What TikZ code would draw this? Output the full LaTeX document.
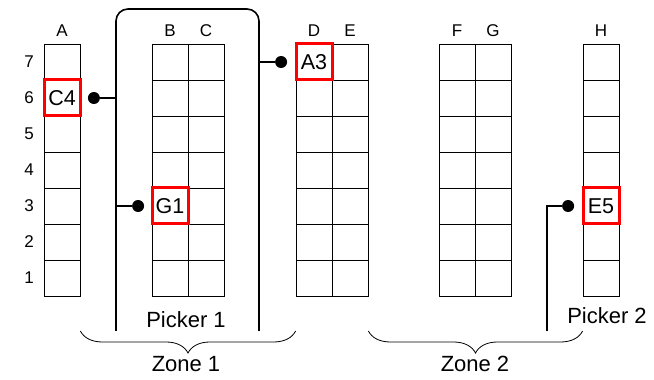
\documentclass[tikz,border=0pt]{standalone}
\usepackage{fontspec}
\setmainfont{Liberation Sans}
\usetikzlibrary{positioning,decorations.pathreplacing}

\begin{document}
\begin{tikzpicture}[x=1pt, y=1pt, line width=0.8pt,
                    cell/.style = {draw, minimum size=36pt, inner sep=0pt},
                    slot/.style = {draw=red, line width=3pt, minimum size=36pt, inner sep=0pt, font=\fontsize{21.5}{24}\selectfont},
                    dot/.style = {circle, fill=black, inner sep=0pt, minimum size=12pt},
                    picker/.style = {line width=1.6pt},
                    brace/.style = {decorate, decoration={brace, mirror, amplitude=22pt}, line width=0.8pt},
                    small/.style = {font=\fontsize{17}{20}\selectfont},
                    big/.style = {font=\fontsize{22}{26}\selectfont}]
    \useasboundingbox (0,0) rectangle (654,380);

    % racks
    \foreach \c/\x in {A/62, B/170, C/206, D/314, E/350, F/457, G/493, H/601} {
        \foreach \r in {1,...,7}
            \node [cell] (\c-\r) at (\x, 66+36*\r) {};
        \node [small] at (\x, 349) {\c};
    }
    \foreach \r in {1,...,7}
        \node [small] at (29, 66+36*\r) {\r};

    % picked items
    \node [slot] (c4) at (A-6) {C4};
    \node [slot] (a3) at (D-7) {A3};
    \node [slot] (g1) at (B-3) {G1};
    \node [slot] (e5) at (H-3) {E5};

    % picker 1
    \coordinate (p1l) at (116,49);
    \coordinate (p1r) at (259,49);
    \draw [picker, rounded corners=12pt] (p1l) -- (116,371) -- (259,371) -- (p1r);
    \node [big] at (186,60) {Picker 1};
    \node [dot, right=6pt of c4] (c4dot) {};
    \node [dot, left=6pt of g1] (g1dot) {};
    \node [dot, left=7pt of a3] (a3dot) {};
    \draw [picker] (c4dot) -- (c4dot -| p1l);
    \draw [picker] (g1dot) -- (g1dot -| p1l);
    \draw [picker] (a3dot) -- (a3dot -| p1r);

    % picker 2
    \coordinate (p2) at (547,49);
    \node [dot, left=7pt of e5] (e5dot) {};
    \draw [picker] (p2) |- (e5dot);
    \node [big] at (607,64) {Picker 2};

    % zones
    \draw [brace] (A-1.east |- p1l) -- (D-1.west |- p1l);
    \node [big] at (186,16) {Zone 1};
    \draw [brace] (E-1.east |- p1l) -- (H-1.west |- p1l);
    \node [big] at (475,16) {Zone 2};
\end{tikzpicture}
\end{document}
